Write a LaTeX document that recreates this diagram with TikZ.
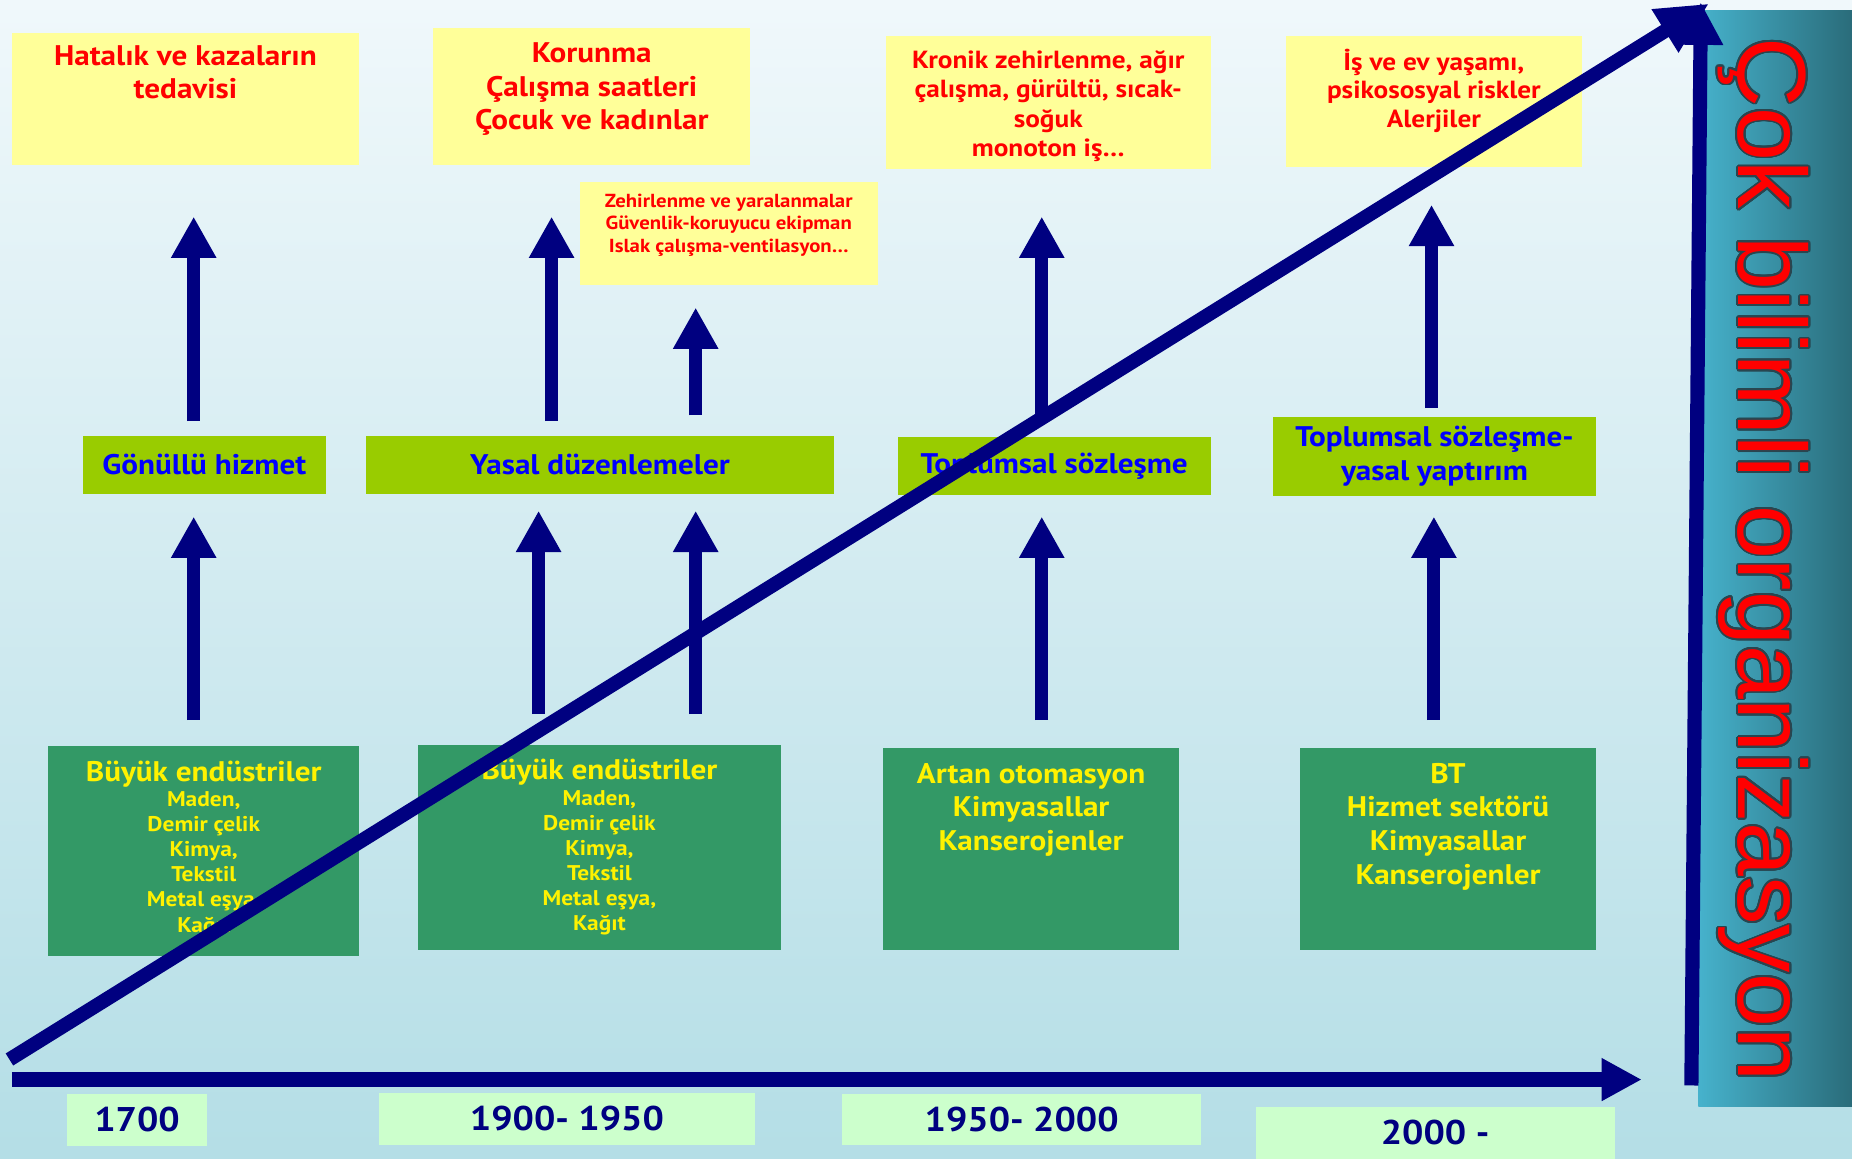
\documentclass[tikz,border=0pt]{standalone}
\usepackage{fontspec}
\setmainfont{PT Sans}[FakeStretch=1.1]
\newfontfamily\panelfont{Liberation Sans}
\usepackage[copies]{contour}
\contourlength{0.8pt}
\contournumber{24}
\usetikzlibrary{arrows.meta}
\definecolor{navy}{HTML}{000080}
\definecolor{bgtop}{RGB}{240,248,251}
\definecolor{bgbot}{RGB}{180,222,230}
\definecolor{panL}{RGB}{70,178,204}
\definecolor{panR}{RGB}{42,108,122}
\definecolor{outl}{RGB}{40,70,80}
\definecolor{yboxc}{HTML}{FFFF99}
\definecolor{gboxc}{HTML}{339966}
\definecolor{lboxc}{HTML}{99CC00}
\definecolor{tboxc}{HTML}{CCFFCC}
\newcommand\bxt[4]{\parbox[c][#2][t]{#1}{\centering\vspace*{#3}#4\par}}
\tikzset{
 ybox/.style={fill=yboxc, inner sep=0pt, text=red, font=\bfseries},
 gbox/.style={fill=gboxc, inner sep=0pt, text=yellow, font=\bfseries},
 lbox/.style={fill=lboxc, inner sep=0pt, text=blue, align=center, font=\bfseries\fontsize{12}{14.5}\selectfont},
 tbox/.style={fill=tboxc, inner sep=0pt, text=navy, font=\bfseries\fontsize{14.5}{18}\selectfont},
 varr/.style={draw=navy, line width=5.5pt, -{Triangle[length=17.5pt,width=18pt]}},
 bigarr/.style={draw=navy, line width=6pt, -{Triangle[length=18pt,width=18pt]}},
 diagarr/.style={draw=navy, line width=6pt, -{Triangle[length=22pt,width=20pt]}},
}
\begin{document}
\begin{tikzpicture}[x=0.5pt,y=-0.5pt]
\useasboundingbox (0,0) rectangle (1568,981);
\shade[top color=bgtop,bottom color=bgbot] (0,0) rectangle (1568,981);
\shade[left color=panL,right color=panR] (1438,8.5) rectangle (1568,937);
\node[rotate=-90,anchor=base west,inner sep=0pt,text=red,font=\panelfont\fontsize{41}{41}\selectfont] (vt) at (1472,31) {\contour{outl}{Çok bilimli organizasyon}};

% yellow boxes
\node[ybox] (Y1) at (157,84) {\bxt{147pt}{56pt}{5.5pt}{\fontsize{12}{14}\selectfont Hatalık ve kazaların\\tedavisi}};
\node[ybox] (Y2) at (501,82) {\bxt{134pt}{58pt}{6pt}{\fontsize{12}{14.25}\selectfont Korunma\\Çalışma saatleri\\Çocuk ve kadınlar}};
\node[ybox] (Y3) at (617,197.5) {\bxt{126pt}{43.5pt}{5pt}{\fontsize{8}{9.5}\selectfont Zehirlenme ve yaralanmalar\\Güvenlik-koruyucu ekipman\\Islak çalışma-ventilasyon…}};
\node[ybox] (Y4) at (887.5,86.75) {\bxt{137.5pt}{56.25pt}{6pt}{\fontsize{10.5}{12.5}\selectfont Kronik zehirlenme, ağır\\çalışma, gürültü, sıcak-\\soğuk\\monoton iş…}};
\node[ybox] (Y5) at (1214,85.75) {\bxt{125pt}{55.25pt}{5.5pt}{\fontsize{10.5}{12}\selectfont İş ve ev yaşamı,\\psikososyal riskler\\Alerjiler}};

% lime boxes
\node[lbox,minimum width=103pt,minimum height=24.5pt] (L1) at (173,393.5) {Gönüllü hizmet};
\node[lbox,minimum width=198pt,minimum height=24.5pt] (L2) at (508,393.5) {Yasal düzenlemeler};
\node[lbox,minimum width=132.5pt,minimum height=24.5pt] (L3) at (892.5,394.5) {Toplumsal sözleşme};
\node[lbox,minimum width=136.5pt,minimum height=33.5pt] (L4) at (1214.5,386.5) {Toplumsal sözleşme-\\yasal yaptırım};

% green boxes
\node[gbox] (G1) at (172.5,720.5) {\bxt{131.5pt}{88.5pt}{6pt}{{\fontsize{12}{14}\selectfont Büyük endüstriler\par}{\fontsize{9}{10.65}\selectfont Maden,\\Demir çelik\\Kimya,\\Tekstil\\Metal eşya,\\Kağıt\par}}};
\node[gbox] (G2) at (507.5,717.5) {\bxt{153.5pt}{86.5pt}{6pt}{{\fontsize{12}{14}\selectfont Büyük endüstriler\par}{\fontsize{9}{10.65}\selectfont Maden,\\Demir çelik\\Kimya,\\Tekstil\\Metal eşya,\\Kağıt\par}}};
\node[gbox] (G3) at (873,718.5) {\bxt{125pt}{85.5pt}{6.5pt}{\fontsize{12}{14.25}\selectfont Artan otomasyon\\Kimyasallar\\Kanserojenler}};
\node[gbox] (G4) at (1226,718.5) {\bxt{125pt}{85.5pt}{6.5pt}{\fontsize{12}{14.25}\selectfont BT\\Hizmet sektörü\\Kimyasallar\\Kanserojenler}};

% year boxes
\node[tbox,minimum width=59pt,minimum height=22pt] (T1) at (116,948) {1700};
\node[tbox,minimum width=159pt,minimum height=21.7pt] (T2) at (480,947.3) {1900- 1950};
\node[tbox,minimum width=152pt,minimum height=21.5pt] (T3) at (865,947.5) {1950- 2000};
\node[tbox,minimum width=152pt,minimum height=22pt] (T4) at (1215,959) {2000 -};

% arrow columns
\coordinate (c1) at (164,0);
\coordinate (c2) at (456,0);
\coordinate (c3) at (589,0);
\coordinate (c4) at (467,0);
\coordinate (c5) at (882,0);
\coordinate (c6) at (1214,0);
\coordinate (c7) at (1212,0);

\draw[varr,shorten <=11pt,shorten >=9.5pt] (G1.north -| c1) -- (L1.south -| c1);
\draw[varr,shorten <=6pt,shorten >=21.5pt] (L1.north -| c1) -- (Y1.south -| c1);
\draw[varr,shorten <=13pt,shorten >=7pt] (G2.north -| c2) -- (L2.south -| c2);
\draw[varr,shorten <=13pt,shorten >=7pt] (G2.north -| c3) -- (L2.south -| c3);
\draw[varr,shorten <=6pt,shorten >=21.5pt] (L2.north -| c4) -- (Y2.south -| c4);
\draw[varr,shorten <=8.5pt,shorten >=9.5pt] (L2.north -| c3) -- (Y3.south -| c3);
\draw[varr,shorten <=11.5pt,shorten >=9pt] (G3.north -| c5) -- (L3.south -| c5);
\draw[varr,shorten <=6pt,shorten >=20pt] (L3.north -| c5) -- (Y4.south -| c5);
\draw[varr,shorten <=11.5pt,shorten >=8.5pt] (G4.north -| c6) -- (L4.south -| c6);
\draw[varr,shorten <=3.5pt,shorten >=16pt] (L4.north -| c7) -- (Y5.south -| c7);

% axes
\coordinate (hs) at (10,914);
\coordinate (he) at (1390,914);
\draw[bigarr,-{Triangle[length=17pt,width=17pt]}] (hs) -- (he);
\coordinate (vs) at (1432,919);
\coordinate (ve) at (1440,2);
\draw[bigarr] (vs) -- (ve);
\coordinate (ds) at (8,897);
\coordinate (de) at (1447,3);
\draw[diagarr] (ds) -- (de);
\end{tikzpicture}
\end{document}
